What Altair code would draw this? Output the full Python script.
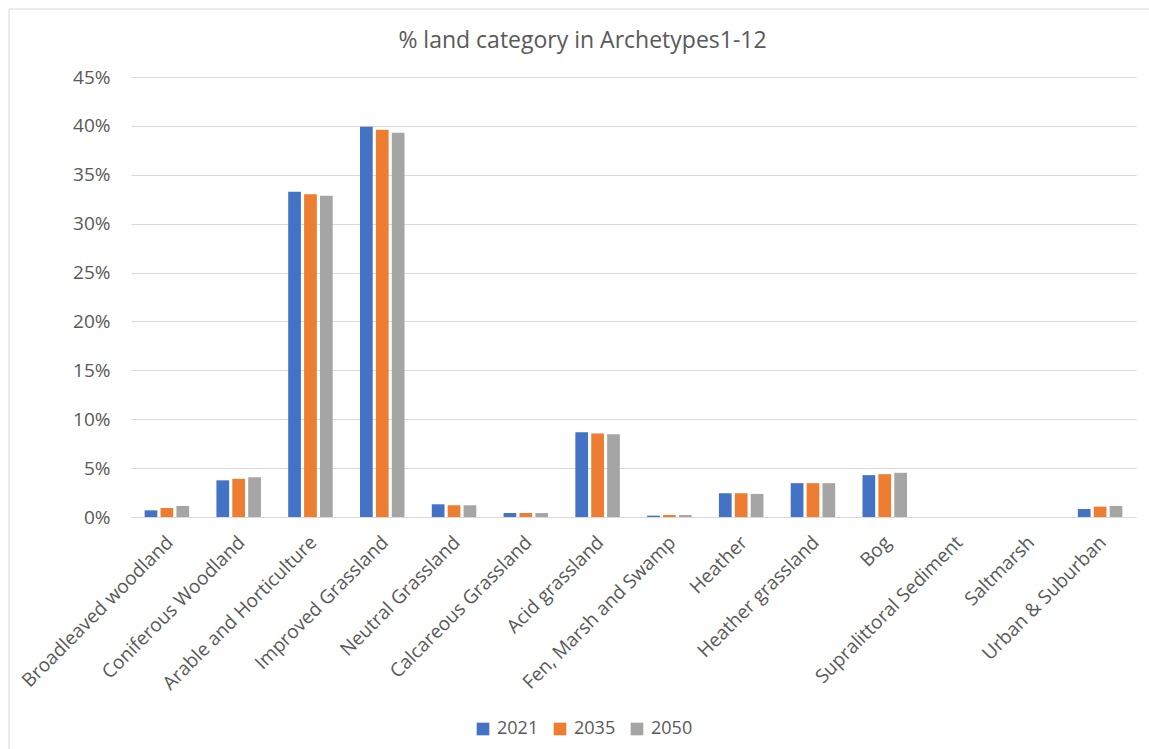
import altair as alt
import pandas as pd

categories = [
    "Broadleaved woodland", "Coniferous Woodland", "Arable and Horticulture",
    "Improved Grassland", "Neutral Grassland", "Calcareous Grassland",
    "Acid grassland", "Fen, Marsh and Swamp", "Heather", "Heather grassland",
    "Bog", "Supralittoral Sediment", "Saltmarsh", "Urban & Suburban",
]
years = ["2021", "2035", "2050"]
# share of land (%) per category for each year
v2021 = [0.68, 3.75, 33.27, 39.90, 1.30, 0.41, 8.67, 0.14, 2.43, 3.46, 4.28, 0.0, 0.0, 0.82]
v2035 = [0.92, 3.90, 33.00, 39.60, 1.20, 0.41, 8.53, 0.20, 2.43, 3.46, 4.38, 0.0, 0.0, 1.06]
v2050 = [1.13, 4.06, 32.85, 39.30, 1.20, 0.40, 8.46, 0.20, 2.36, 3.46, 4.52, 0.0, 0.0, 1.13]
colors = ["#4472C4", "#ED7D31", "#A5A5A5"]
y_ticks = [0, 0.05, 0.10, 0.15, 0.20, 0.25, 0.30, 0.35, 0.40, 0.45]
title_text = "% land category in Archetypes1-12"

rows = []
for year, series in zip(years, [v2021, v2035, v2050]):
    for cat, val in zip(categories, series):
        rows.append({"category": cat, "year": year, "share": val / 100})
df = pd.DataFrame(rows)

FONT = "Open Sans"
TEXT = "#595959"
GRID = "#D9D9D9"

bars = alt.Chart(df).mark_bar().encode(
    x=alt.X(
        "category:N",
        sort=categories,
        title=None,
        scale=alt.Scale(paddingInner=0.38, paddingOuter=0.19),
        axis=alt.Axis(
            labelAngle=-45,
            labelAlign="right",
            labelBaseline="middle",
            labelFontSize=19,
            labelFont=FONT,
            labelColor=TEXT,
            labelPadding=22,
            labelOffset=3,
            ticks=False,
            domainColor=GRID,
            domainWidth=1,
            grid=False,
            labelLimit=400,
        ),
    ),
    xOffset=alt.XOffset("year:N", sort=years, scale=alt.Scale(paddingInner=0.2)),
    y=alt.Y(
        "share:Q",
        title=None,
        scale=alt.Scale(domain=[0, 0.45], nice=False),
        axis=alt.Axis(
            values=y_ticks,
            format=".0%",
            labelFontSize=19,
            labelFont=FONT,
            labelColor=TEXT,
            labelPadding=21,
            ticks=False,
            domain=False,
            gridColor=GRID,
            gridWidth=1,
        ),
    ),
    color=alt.Color(
        "year:N",
        sort=years,
        scale=alt.Scale(domain=years, range=colors),
        legend=alt.Legend(
            title=None,
            orient="none",
            direction="horizontal",
            legendX=343,
            legendY=643,
            symbolType="square",
            symbolSize=160,
            symbolStrokeWidth=0,
            labelFontSize=18,
            labelFont=FONT,
            labelColor=TEXT,
            labelOffset=5,
            columnPadding=12,
        ),
    ),
)

one_row = alt.Data(values=[{"label": title_text}])

# light frame around the whole chart
frame = alt.Chart(one_row).mark_rect(
    fill=None, stroke=GRID, strokeWidth=1
).encode(
    x=alt.value(-122), x2=alt.value(1200),
    y=alt.value(-68), y2=alt.value(800),
)

# chart heading, centred over the full chart area
heading = alt.Chart(one_row).mark_text(
    font=FONT, fontSize=23, color=TEXT, align="center", baseline="alphabetic"
).encode(
    text="label:N",
    x=alt.value(451.5),
    y=alt.value(-29),
)

chart = alt.layer(frame, bars, heading).properties(
    width=1005,
    height=440,
    autosize=alt.AutoSizeParams(type="none"),
    padding={"left": 131, "top": 77, "right": 13, "bottom": 232},
    background="white",
).configure_view(stroke=None)

chart.save("out.html", embed_options={"renderer": "svg", "actions": False})
